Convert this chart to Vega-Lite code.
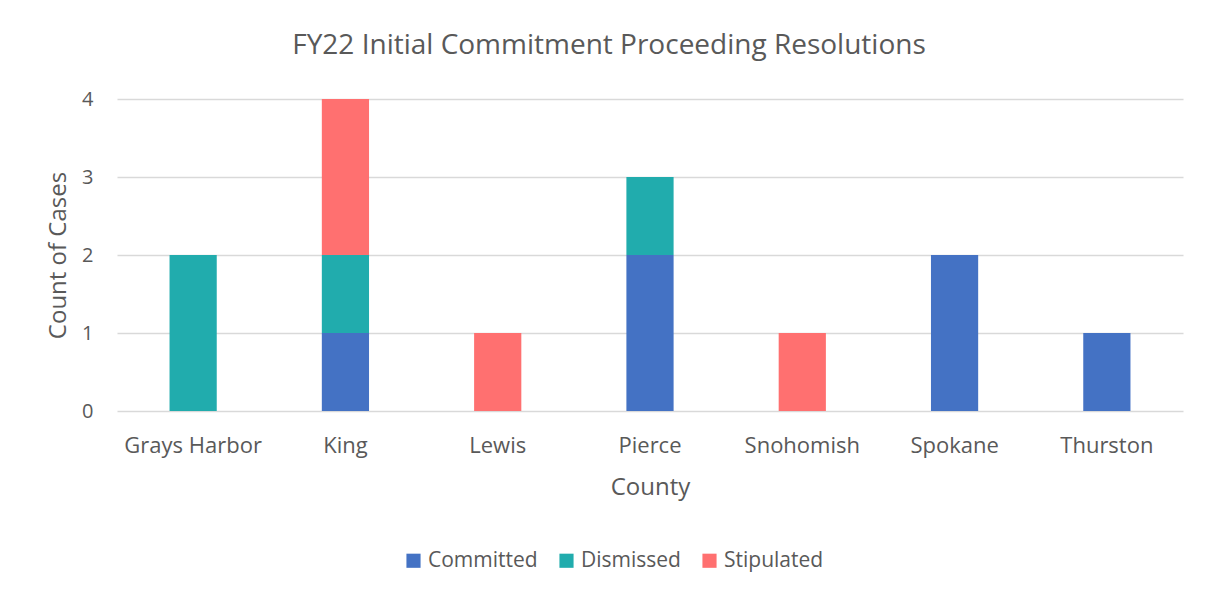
{
  "$schema": "https://vega.github.io/schema/vega-lite/v6.json",
  "width": 1066,
  "height": 312,
  "autosize": {"type": "none"},
  "padding": {"left": 117, "top": 99, "right": 22, "bottom": 184},
  "background": "white",
  "title": {
    "text": "FY22 Initial Commitment Proceeding Resolutions",
    "fontSize": 28,
    "font": "Open Sans",
    "fontWeight": "normal",
    "color": "#595959",
    "anchor": "middle",
    "dx": -41,
    "offset": 29
  },
  "data": {
    "values": [
      {"County": "Grays Harbor", "Resolution": "Dismissed", "Count": 2},
      {"County": "King", "Resolution": "Committed", "Count": 1},
      {"County": "King", "Resolution": "Dismissed", "Count": 1},
      {"County": "King", "Resolution": "Stipulated", "Count": 2},
      {"County": "Lewis", "Resolution": "Stipulated", "Count": 1},
      {"County": "Pierce", "Resolution": "Committed", "Count": 2},
      {"County": "Pierce", "Resolution": "Dismissed", "Count": 1},
      {"County": "Snohomish", "Resolution": "Stipulated", "Count": 1},
      {"County": "Spokane", "Resolution": "Committed", "Count": 2},
      {"County": "Thurston", "Resolution": "Committed", "Count": 1}
    ]
  },
  "mark": {"type": "bar"},
  "encoding": {
    "x": {
      "field": "County",
      "type": "nominal",
      "sort": ["Grays Harbor", "King", "Lewis", "Pierce", "Snohomish", "Spokane", "Thurston"],
      "scale": {"paddingInner": 0.69, "paddingOuter": 0.345},
      "axis": {
        "labelAngle": 0,
        "title": "County",
        "titleFontSize": 24,
        "titlePadding": 19,
        "labelFontSize": 22,
        "labelPadding": 24,
        "ticks": false,
        "domain": false,
        "grid": false
      }
    },
    "y": {
      "field": "Count",
      "type": "quantitative",
      "aggregate": "sum",
      "stack": "zero",
      "scale": {"domain": [0, 4]},
      "axis": {
        "title": "Count of Cases",
        "values": [0, 1, 2, 3, 4],
        "format": "d",
        "titleFontSize": 24,
        "titlePadding": 11,
        "labelFontSize": 20,
        "labelPadding": 24,
        "ticks": false,
        "domain": false,
        "grid": true,
        "gridColor": "#d9d9d9",
        "gridWidth": 1.5
      }
    },
    "color": {
      "field": "Resolution",
      "type": "nominal",
      "scale": {
        "domain": ["Committed", "Dismissed", "Stipulated"],
        "range": ["#4472C4", "#21ACAD", "#FF7070"]
      },
      "legend": {
        "title": null,
        "orient": "none",
        "direction": "horizontal",
        "legendX": 286,
        "legendY": 451,
        "symbolType": "square",
        "symbolSize": 200,
        "symbolStrokeWidth": 0,
        "labelFontSize": 21,
        "columnPadding": 18,
        "labelOffset": 4
      }
    },
    "order": {"field": "Resolution", "sort": "ascending"}
  },
  "config": {
    "font": "Open Sans",
    "axis": {
      "labelColor": "#595959",
      "titleColor": "#595959",
      "titleFontWeight": "normal",
      "labelFont": "Open Sans",
      "titleFont": "Open Sans"
    },
    "legend": {"labelColor": "#595959", "labelFont": "Open Sans"},
    "view": {"stroke": null}
  }
}
